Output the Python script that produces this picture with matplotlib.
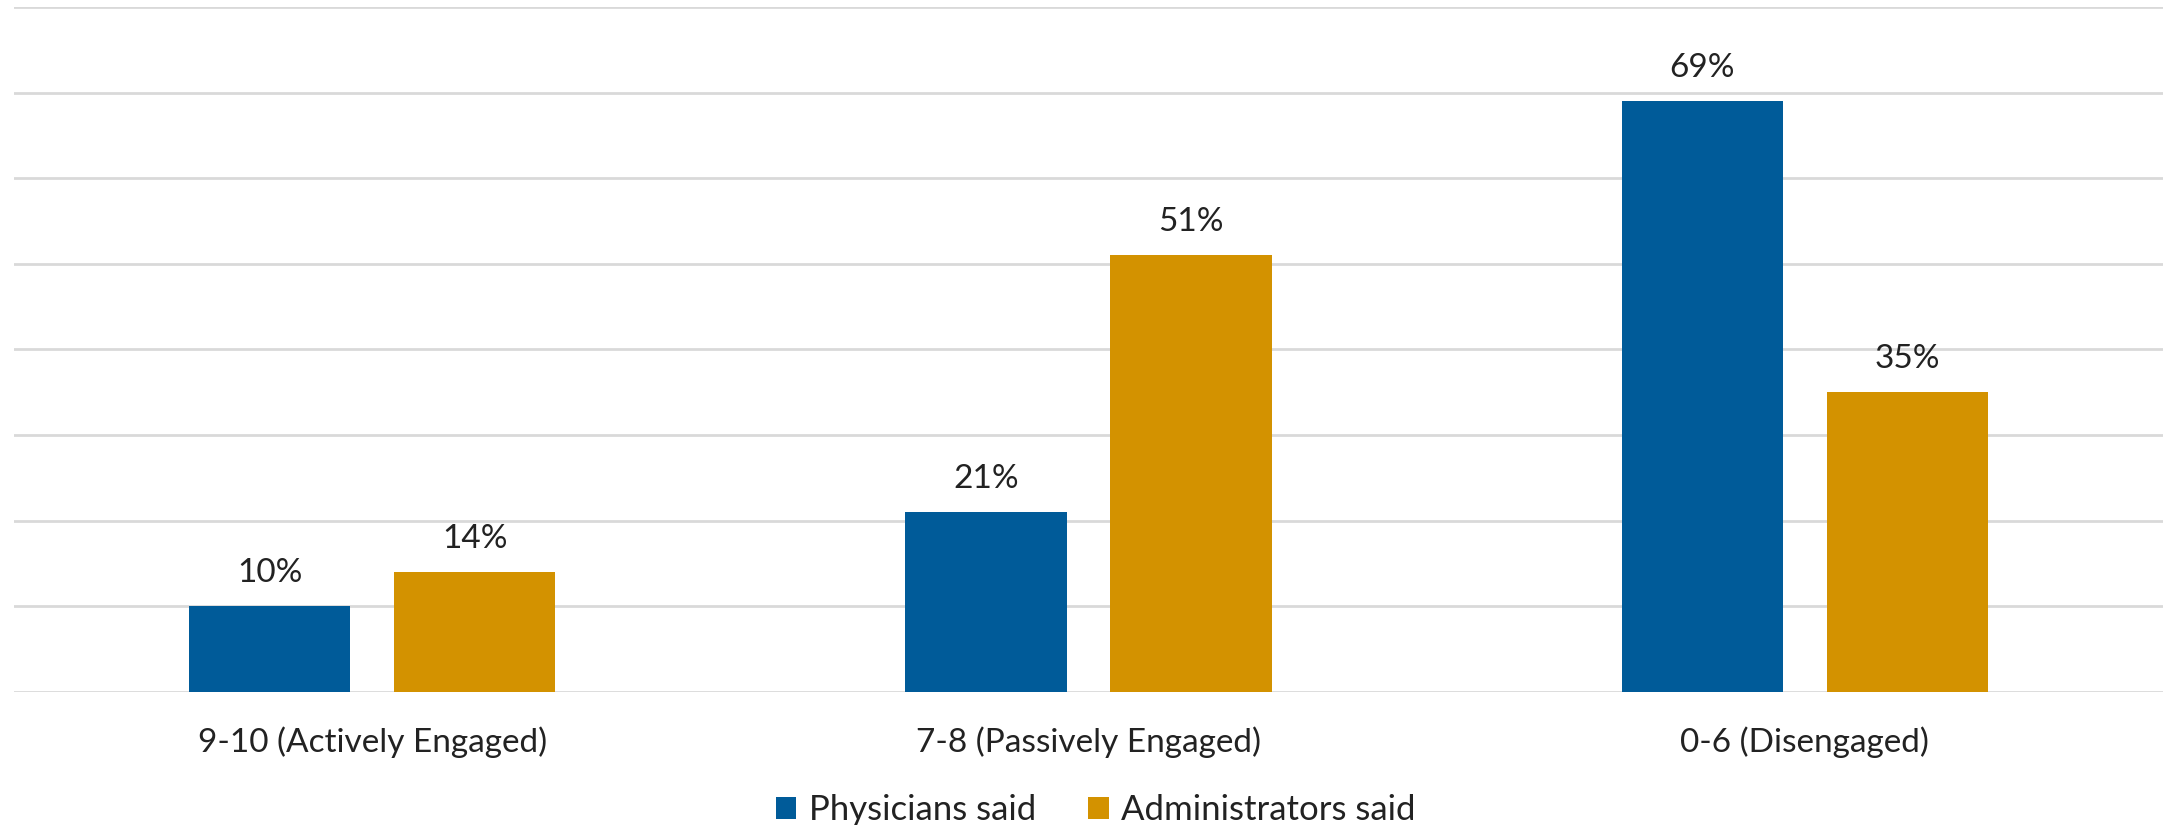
import numpy as np
import matplotlib.pyplot as plt

plt.rcParams['font.family'] = ['Lato', 'DejaVu Sans']

categorias = ['9-10 (Actively Engaged)', '7-8 (Passively Engaged)', '0-6 (Disengaged)']
medicos = [10, 21, 69]
administradores = [14, 51, 35]
series = ['Physicians said', 'Administrators said']

azul = '#005B99'
naranja = '#D39200'

fig = plt.figure(figsize=(21.65, 8.25), dpi=100)
ax = fig.add_axes([14 / 2165, 1 - 691.7 / 825, 2149 / 2165, 684.7 / 825])

x = np.arange(len(categorias))
ancho = 0.225
desp = 0.143
b1 = ax.bar(x - desp, medicos, ancho, color=azul, label=series[0], zorder=3)
b2 = ax.bar(x + desp, administradores, ancho, color=naranja, label=series[1], zorder=3)

for barras in (b1, b2):
    ax.bar_label(barras, labels=[f'{v}%' for v in barras.datavalues],
                 padding=13, fontsize=24, color='#222222')

ax.set_xlim(-0.5, 2.5)
ax.set_ylim(0, 80)
ax.set_yticks(np.arange(0, 81, 10))
ax.set_yticklabels([])
ax.tick_params(axis='y', length=0)
ax.set_xticks(x)
ax.set_xticklabels(categorias, fontsize=24, color='#222222')
ax.tick_params(axis='x', length=0, pad=25)
ax.grid(axis='y', color='#D9D9D9', linewidth=2, zorder=0)
for s in ax.spines.values():
    s.set_visible(False)

fig.legend(loc='center', bbox_to_anchor=(0.506, 0.018), ncol=2, frameon=False,
           fontsize=25, handlelength=0.6, handleheight=0.6, handletextpad=0.35,
           columnspacing=1.5, labelcolor='#222222', borderaxespad=0, borderpad=0)

fig.savefig('out.png', dpi=100)
